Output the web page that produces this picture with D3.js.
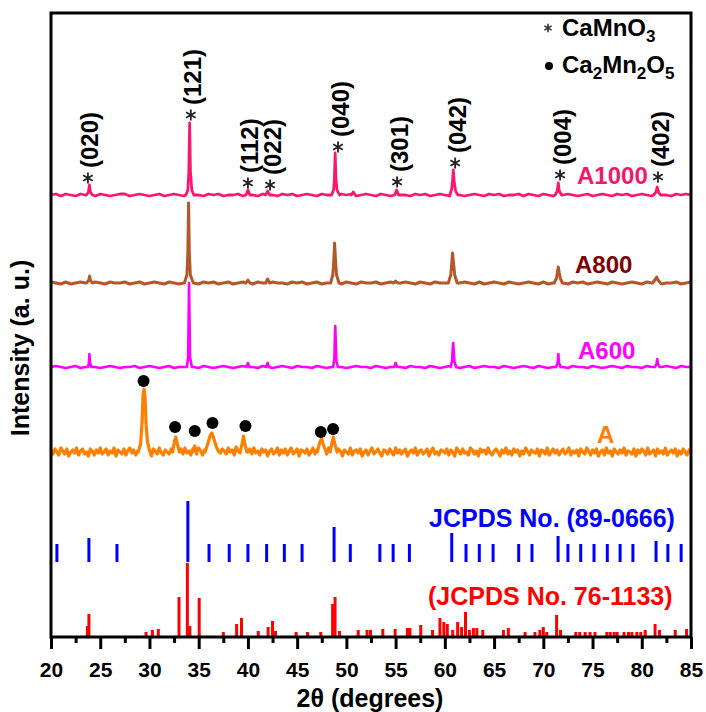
<!DOCTYPE html>
<html>
<head>
<meta charset="utf-8">
<script src="https://cdn.jsdelivr.net/npm/d3@7"></script>
<style>
body { margin: 0; background: #fff; }
#xrd_chart text { font-family: "Liberation Sans", Arial, sans-serif; font-weight: bold; }
</style>
</head>
<body>
<div id="xrd_chart"></div>
<script>
// tick values of the 2theta axis
var x_major_ticks = [20, 25, 30, 35, 40, 45, 50, 55, 60, 65, 70, 75, 80, 85];
var x_minor_ticks = [22.5, 27.5, 32.5, 37.5, 42.5, 47.5, 52.5, 57.5, 62.5, 67.5, 72.5, 77.5, 82.5];

// samples, stacked bottom to top is A, A600, A800, A1000
var sample_names = ["A1000", "A800", "A600", "A"];
var sample_offsets = [442, 354, 270, 185];
var sample_steps = [0.5, 0.5, 0.5, 0.2];

// baseline wiggle (one value per step from 20 deg)
var a1000_noise = [0,1,-1,1,0,-1,1,0,0,-1, 1,0,-1,0,1,1,-1,0,1,0, -1,0,1,-1,0,1,0,-1,1,0, 0,-1,1,0,1,-1,0,0,1,-1,
  1,0,-1,1,0,0,-1,1,0,1, -1,0,1,0,-1,1,0,0,-1,1, 0,1,-1,0,1,0,-1,1,0,-1, 1,0,0,-1,1,0,1,-1,0,1,
  0,-1,1,0,-1,0,1,0,-1,1, 0,1,-1,0,0,1,-1,1,0,-1, 1,0,-1,1,0,1,0,-1,0,1, -1,0,1,0,-1,1,0,1,-1,0,
  1,0,-1,1,0,0,-1,1,0,1, 0];
var a800_noise = [1,0,-1,1,-1,0,1,0,-1,1, 0,-1,1,0,0,1,-1,0,1,-1, 0,1,0,-1,1,0,-1,0,1,0, -1,1,0,1,-1,0,1,-1,0,1,
  0,-1,1,0,-1,1,0,0,-1,1, 0,1,-1,0,1,-1,0,1,0,-1, 1,0,-1,1,0,0,1,-1,0,1, -1,0,1,0,-1,1,0,-1,1,0,
  0,1,-1,0,1,0,-1,1,-1,0, 1,0,-1,1,0,-1,0,1,0,-1, 1,-1,0,1,0,-1,1,0,1,-1, 0,1,0,-1,1,0,-1,0,1,0,
  -1,1,0,1,-1,0,0,1,-1,0, 1];
var a600_noise = [0,1,0,-1,0,1,-1,0,1,0, -1,0,1,0,-1,0,0,1,-1,0, 1,0,-1,0,1,-1,0,0,1,0, -1,1,0,-1,0,1,0,-1,0,1,
  0,0,-1,1,0,-1,0,1,0,-1, 1,0,0,-1,1,0,-1,0,1,0, -1,0,1,0,0,-1,1,0,-1,0, 1,0,-1,1,0,0,-1,1,0,-1,
  0,1,0,-1,0,1,-1,0,1,0, 0,-1,1,0,-1,0,1,0,-1,1, 0,-1,0,1,0,-1,1,0,0,-1, 1,0,-1,0,1,0,-1,1,0,0,
  -1,1,0,-1,0,1,0,-1,1,0, 0];
var a_noise = [2,-2,3,0,-3,4,1,-2,3,-4,0,2,-1,4,-3,1,3,-2,0,-4,
  3,1,-3,2,-1,4,-2,0,3,-3,1,-1,4,-4,2,0,-2,3,-3,1,
  4,-1,2,-3,1,3,-2,5,-3,0,2,-4,3,1,-2,4,-1,-3,2,0,
  -2,3,1,-4,2,0,3,-2,4,-1,1,-3,3,0,-2,4,1,-3,2,-1,
  3,0,4,-2,2,5,-1,3,1,-2,4,0,2,-3,5,1,-1,3,-2,4,
  0,3,-2,4,-1,1,-3,3,0,2,-4,1,3,-2,0,4,-3,2,-1,3,
  -3,1,4,-2,0,3,-4,2,1,-1,3,-3,0,4,-2,2,-1,-4,3,1,
  -2,4,0,-3,2,-1,3,1,-4,2,0,-2,4,-3,1,2,-1,3,-4,0,
  2,-3,1,4,-2,0,3,-1,-4,2,1,-2,3,0,-3,4,-1,2,-2,1,
  3,-4,0,2,-1,4,-3,1,2,-2,0,3,-4,1,4,-2,0,-3,2,1,
  -1,3,-3,2,0,-4,4,1,-2,3,-1,0,-3,4,2,-2,1,-4,3,0,
  2,-2,4,-1,-3,1,3,0,-4,2,-1,4,-2,1,-3,3,0,2,-4,1,
  -2,4,1,-3,2,0,-1,3,-4,2,1,-2,4,-3,0,3,-1,2,-3,1,
  3,-2,0,4,-3,1,-1,2,-4,3,0,-2,4,1,-3,2,-1,3,-4,0,
  2,-3,4,-1,1,-4,3,0,-2,2,-1,4,-3,1,0,-2,3,-4,2,-1,
  3,1,-3,4,-2,0,2,-4,3,-1,1,-2,4,-3,0,2,-1,3,-4,1,
  -2,3,0,-3,2,-1];

// peaks as [2theta, intensity above baseline] vertices
var a1000_peaks = [
  [[23.6,0],[23.8,3],[23.9,10],[24.0,3],[24.2,0]],
  [[33.7,0],[33.9,5],[34.0,24],[34.08,72],[34.16,24],[34.3,5],[34.5,0]],
  [[39.8,0],[40.0,5],[40.2,0]],
  [[41.8,0],[42.0,4],[42.2,0]],
  [[48.5,0],[48.7,5],[48.78,16],[48.86,42],[48.94,16],[49.05,5],[49.3,0]],
  [[50.5,0],[50.7,3],[50.9,0]],
  [[54.9,0],[55.1,5],[55.3,0]],
  [[60.5,0],[60.7,6],[60.78,14],[60.86,25],[60.96,12],[61.1,4],[61.3,0]],
  [[71.2,0],[71.42,4],[71.52,12],[71.62,4],[71.85,0]],
  [[81.2,0],[81.45,3],[81.57,8],[81.7,3],[81.9,0]]
];
var a800_peaks = [
  [[23.6,0],[23.85,3],[23.92,7],[24.0,3],[24.2,0]],
  [[33.55,0],[33.8,8],[33.9,30],[33.97,80],[34.05,30],[34.15,8],[34.45,0]],
  [[39.8,0],[40.0,3],[40.2,0]],
  [[41.8,0],[42.0,4],[42.2,0]],
  [[48.4,0],[48.62,8],[48.72,22],[48.8,40],[48.9,22],[49.0,8],[49.25,0]],
  [[54.8,0],[55.0,2],[55.2,0]],
  [[60.35,0],[60.6,8],[60.7,20],[60.78,30],[60.88,20],[61.0,8],[61.25,0]],
  [[71.1,0],[71.35,5],[71.45,12],[71.52,16],[71.62,10],[71.75,4],[71.95,0]],
  [[81.1,0],[81.4,4],[81.52,6],[81.65,3],[81.9,0]]
];
var a600_peaks = [
  [[23.75,0],[23.85,4],[23.9,13],[23.97,4],[24.1,0]],
  [[33.8,0],[33.93,10],[33.98,50],[34.02,84],[34.07,50],[34.12,10],[34.3,0]],
  [[39.85,0],[40.0,4],[40.15,0]],
  [[41.85,0],[42.0,4],[42.15,0]],
  [[48.65,0],[48.78,8],[48.83,30],[48.87,41],[48.92,25],[48.98,6],[49.15,0]],
  [[54.85,0],[55.0,4],[55.15,0]],
  [[60.6,0],[60.73,6],[60.8,18],[60.85,24],[60.9,16],[60.98,5],[61.15,0]],
  [[71.3,0],[71.45,4],[71.53,13],[71.6,4],[71.75,0]],
  [[81.35,0],[81.5,3],[81.57,8],[81.65,3],[81.8,0]]
];
var a_peaks = [
  [[28.85,0],[29.1,8],[29.25,30],[29.35,58],[29.45,63],[29.55,55],[29.65,28],[29.8,10],[30.05,0]],
  [[32.35,0],[32.55,11],[32.68,15],[32.85,7],[33.05,0]],
  [[34.4,0],[34.6,6],[34.8,0]],
  [[35.65,0],[35.95,9],[36.15,16],[36.35,19],[36.55,13],[36.8,5],[37.05,0]],
  [[39.2,0],[39.42,9],[39.55,16],[39.68,8],[39.9,0]],
  [[47.05,0],[47.3,10],[47.48,13],[47.7,6],[47.95,0]],
  [[48.35,0],[48.55,10],[48.68,15],[48.82,8],[49.05,0]]
];

// Ca2Mn2O5 markers on sample A (2theta, height above A baseline)
var dot_pos = [29.4, 32.6, 34.6, 36.4, 39.75, 47.4, 48.65];
var dot_int = [71, 25, 21, 29, 26, 20, 23];

// CaMnO3 markers and hkl labels on A1000
var hkl_labels = ["(020)", "(121)", "(112)", "(022)", "(040)", "(301)", "(042)", "(004)", "(402)"];
var hkl_pos = [23.75, 34.2, 40.0, 42.25, 49.15, 55.15, 61.05, 71.7, 81.65];
var hkl_int = [17, 80, 12, 10, 48, 13, 32, 20, 18];

// reference patterns
var jcpds_89_0666_pos = [20.6, 23.85, 26.7, 33.9, 36.05, 38.1, 40.0, 41.9, 43.7, 45.5, 48.75, 50.4, 53.4, 54.75, 56.4,
  60.7, 62.15, 63.5, 64.9, 67.5, 68.85, 71.5, 72.5, 73.8, 75.15, 76.5, 77.8, 79.1, 81.45, 82.65, 84.0];
var jcpds_89_0666_int = [18, 24, 18, 61, 18, 18, 18, 18, 18, 18, 35, 18, 18, 18, 18,
  29, 18, 18, 18, 18, 18, 26, 18, 18, 18, 18, 18, 18, 21, 18, 18];
var jcpds_89_0666_base = 75;

var jcpds_76_1133_pos = [23.7, 23.85, 29.65, 30.3, 30.9, 33.0, 33.85, 34.1, 35.05, 37.5, 38.85, 39.35, 41.05, 42.05,
  42.5, 42.8, 44.9, 46.05, 47.4, 48.6, 48.85, 49.3, 51.2, 52.1, 52.45, 53.7, 54.95, 56.2, 56.45, 57.55, 58.75,
  59.5, 59.9, 60.25, 60.8, 61.3, 61.7, 62.1, 62.5, 62.9, 63.25, 63.85, 65.95, 66.45, 68.15, 69.15, 69.65, 70.0,
  70.35, 71.35, 71.75, 73.3, 73.7, 74.25, 74.75, 75.25, 76.45, 76.8, 77.2, 77.5, 78.2, 78.65, 79.0, 79.5, 79.9,
  80.35, 81.35, 81.8, 83.4, 84.55];
var jcpds_76_1133_int = [11, 23, 5, 7, 8, 40, 74, 11, 39, 5, 13, 19, 6, 10,
  16, 6, 5, 5, 5, 33, 40, 6, 7, 7, 7, 8, 8, 9, 9, 12, 7,
  19, 15, 13, 7, 15, 10, 25, 7, 9, 9, 7, 7, 9, 5, 5, 7, 10,
  5, 22, 7, 5, 5, 5, 5, 5, 5, 5, 5, 5, 5, 5, 5, 5, 5,
  7, 13, 7, 7, 8];
var jcpds_76_1133_base = 0;

var width = 706, height = 712;
var margin = {left: 51, right: 15, top: 13, bottom: 75};

var x = d3.scaleLinear().domain([20, 85]).range([margin.left, width - margin.right]);
var y = d3.scaleLinear().domain([0, 624]).range([height - margin.bottom, margin.top]);

var line_colors = ["#f81870", "#b4582c", "#ff00ff", "#ff8000"];
var line_widths = [2.8, 3, 2.6, 3.2];
var label_colors = ["#f01a6c", "#800000", "#ff00ff", "#ff8000"];

var svg = d3.select("#xrd_chart").append("svg")
    .attr("width", width)
    .attr("height", height)
    .style("background", "#fff");

function build_trace(noise, step, peaks) {
  var pts = [];
  noise.forEach(function(v, i) {
    var t = 20 + i * step;
    var inside = peaks.some(function(p) { return t > p[0][0] && t < p[p.length - 1][0]; });
    if (!inside) pts.push([t, v]);
  });
  peaks.forEach(function(p) { p.forEach(function(q) { pts.push(q); }); });
  pts.sort(function(a, b) { return a[0] - b[0]; });
  return pts;
}

var traces = [
  build_trace(a1000_noise, sample_steps[0], a1000_peaks),
  build_trace(a800_noise, sample_steps[1], a800_peaks),
  build_trace(a600_noise, sample_steps[2], a600_peaks),
  build_trace(a_noise, sample_steps[3], a_peaks)
];

// reference sticks
svg.append("g").selectAll("line")
    .data(jcpds_89_0666_pos)
  .enter().append("line")
    .attr("x1", function(d) { return x(d); })
    .attr("x2", function(d) { return x(d); })
    .attr("y1", y(jcpds_89_0666_base))
    .attr("y2", function(d, i) { return y(jcpds_89_0666_base + jcpds_89_0666_int[i]); })
    .attr("stroke", "#0000ff")
    .attr("stroke-width", 3);

svg.append("g").selectAll("line")
    .data(jcpds_76_1133_pos)
  .enter().append("line")
    .attr("x1", function(d) { return x(d); })
    .attr("x2", function(d) { return x(d); })
    .attr("y1", y(jcpds_76_1133_base))
    .attr("y2", function(d, i) { return y(jcpds_76_1133_base + jcpds_76_1133_int[i]); })
    .attr("stroke", "#ff0000")
    .attr("stroke-width", 3);

// patterns, bottom one first
[3, 2, 1, 0].forEach(function(k) {
  var off = sample_offsets[k];
  var line = d3.line()
      .x(function(d) { return x(d[0]); })
      .y(function(d) { return y(off + d[1]); });
  svg.append("path")
      .datum(traces[k])
      .attr("d", line)
      .attr("fill", "none")
      .attr("stroke", line_colors[k])
      .attr("stroke-width", line_widths[k])
      .attr("stroke-linejoin", "round");
});

// Ca2Mn2O5 dots
svg.append("g").selectAll("circle")
    .data(dot_pos)
  .enter().append("circle")
    .attr("cx", function(d) { return x(d); })
    .attr("cy", function(d, i) { return y(sample_offsets[3] + dot_int[i]); })
    .attr("r", 6)
    .attr("fill", "#000");

// asterisk marker
function star_path(r) {
  var a = r * 0.866, b = r * 0.5;
  return "M0," + (-r) + "L0," + r +
         "M" + (-a) + "," + (-b) + "L" + a + "," + b +
         "M" + (-a) + "," + b + "L" + a + "," + (-b);
}

var hkl = svg.append("g").selectAll("g")
    .data(hkl_labels)
  .enter().append("g")
    .attr("transform", function(d, i) {
      return "translate(" + x(hkl_pos[i]) + "," + y(sample_offsets[0] + hkl_int[i]) + ")";
    });
hkl.append("path")
    .attr("d", star_path(5.5))
    .attr("stroke", "#222")
    .attr("stroke-width", 1.8);
hkl.append("text")
    .attr("transform", "translate(2,-10) rotate(-90)")
    .attr("dominant-baseline", "central")
    .style("font-size", "24px")
    .style("fill", "#000")
    .text(function(d) { return d; });

// sample labels
var label_xy = [[577, 184], [575, 273], [578, 359], [597, 443]];
svg.append("g").selectAll("text")
    .data(sample_names)
  .enter().append("text")
    .attr("x", function(d, i) { return label_xy[i][0]; })
    .attr("y", function(d, i) { return label_xy[i][1]; })
    .style("font-size", "24px")
    .style("fill", function(d, i) { return label_colors[i]; })
    .text(function(d) { return d; });

svg.append("text")
    .attr("x", 429).attr("y", 527)
    .style("font-size", "25px")
    .style("fill", "#0000ff")
    .text("JCPDS No. (89-0666)");
svg.append("text")
    .attr("x", 428).attr("y", 605)
    .style("font-size", "25px")
    .style("fill", "#ff0000")
    .text("(JCPDS No. 76-1133)");

// legend
svg.append("path")
    .attr("transform", "translate(548,28)")
    .attr("d", star_path(4.2))
    .attr("stroke", "#333")
    .attr("stroke-width", 1.6);
var leg1 = svg.append("text").attr("x", 562).attr("y", 36).style("font-size", "24px").style("fill", "#000");
leg1.append("tspan").text("CaMnO");
leg1.append("tspan").attr("dy", 6).style("font-size", "17px").text("3");

svg.append("circle").attr("cx", 549).attr("cy", 66).attr("r", 4).attr("fill", "#000");
var leg2 = svg.append("text").attr("x", 562).attr("y", 73).style("font-size", "24px").style("fill", "#000");
leg2.append("tspan").text("Ca");
leg2.append("tspan").attr("dy", 6).style("font-size", "17px").text("2");
leg2.append("tspan").attr("dy", -6).text("Mn");
leg2.append("tspan").attr("dy", 6).style("font-size", "17px").text("2");
leg2.append("tspan").attr("dy", -6).text("O");
leg2.append("tspan").attr("dy", 6).style("font-size", "17px").text("5");

// axes
var xAxis = d3.axisBottom(x)
    .tickValues(x_major_ticks)
    .tickSize(12)
    .tickSizeOuter(0)
    .tickPadding(13);
var gx = svg.append("g")
    .attr("transform", "translate(0," + y(0) + ")")
    .call(xAxis);
gx.select(".domain").remove();
gx.selectAll(".tick line").attr("stroke", "#000").attr("stroke-width", 3);
gx.selectAll(".tick text").style("font-size", "21px").style("fill", "#000")
    .style("font-family", "'Liberation Sans', Arial, sans-serif").style("font-weight", "bold");

var gxm = svg.append("g")
    .attr("transform", "translate(0," + y(0) + ")")
    .call(d3.axisBottom(x).tickValues(x_minor_ticks).tickSize(6).tickSizeOuter(0).tickFormat(""));
gxm.select(".domain").remove();
gxm.selectAll(".tick line").attr("stroke", "#000").attr("stroke-width", 3);

// frame
svg.append("rect")
    .attr("x", x(20)).attr("y", y(624))
    .attr("width", x(85) - x(20))
    .attr("height", y(0) - y(624))
    .attr("fill", "none")
    .attr("stroke", "#000")
    .attr("stroke-width", 3);

svg.append("text")
    .attr("x", (x(20) + x(85)) / 2 - 1)
    .attr("y", 707)
    .attr("text-anchor", "middle")
    .style("font-size", "25px")
    .style("fill", "#000")
    .text("2θ (degrees)");

svg.append("text")
    .attr("transform", "translate(29,348) rotate(-90)")
    .attr("text-anchor", "middle")
    .style("font-size", "25px")
    .style("fill", "#000")
    .text("Intensity (a. u.)");
</script>
</body>
</html>
